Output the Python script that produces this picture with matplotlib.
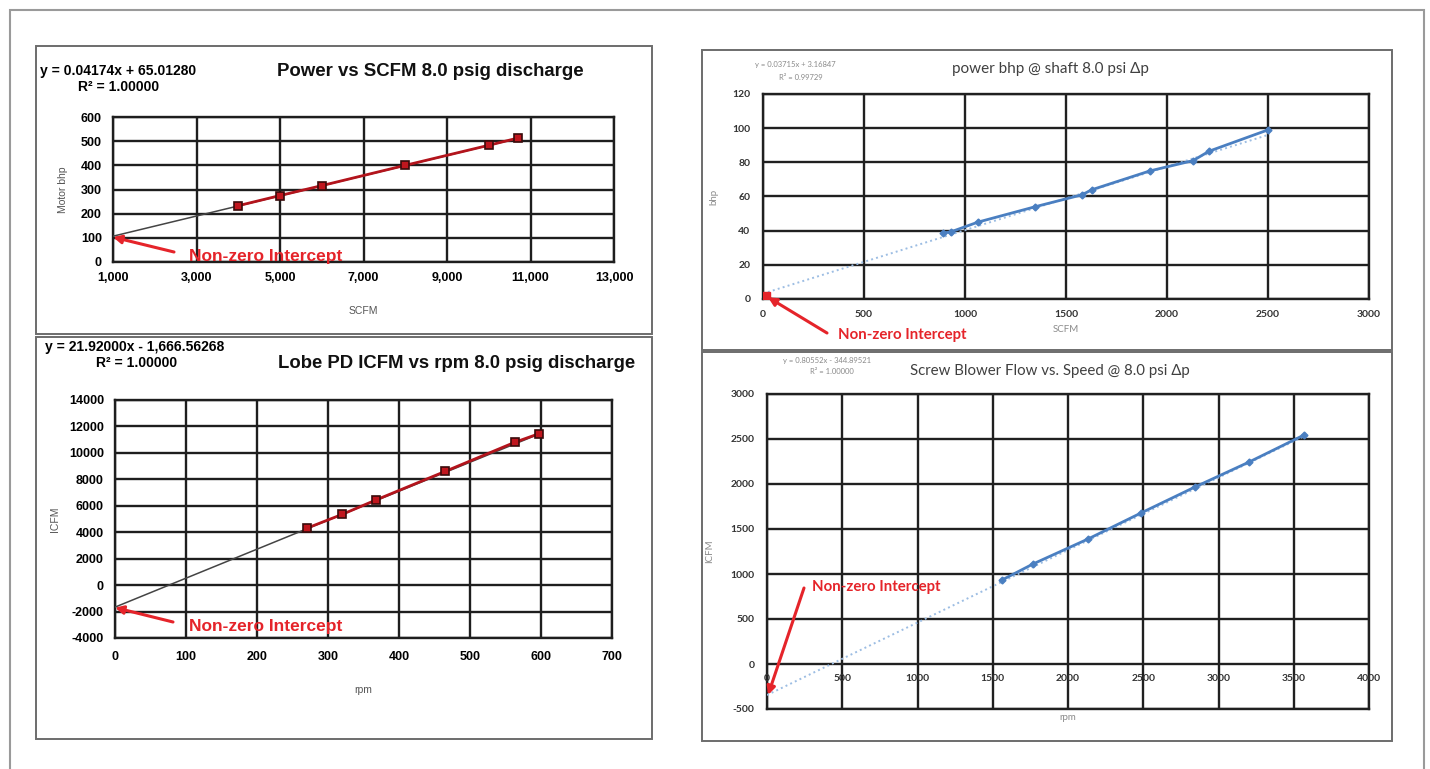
import matplotlib
matplotlib.use('Agg')
from matplotlib import pyplot as plt
from matplotlib.patches import Rectangle
from matplotlib.ticker import FuncFormatter

W, H = 1430, 769

# lobe PD blower: power vs SCFM
pd_scfm = [4000, 5000, 6000, 8000, 10000, 10700]
pd_bhp = [233, 275, 316, 400, 483, 513]
pd_bhp_fit = (0.04174, 65.01280)
pd_bhp_fit_range = (1000, 10700)

# lobe PD blower: ICFM vs rpm
pd_rpm = [270, 320, 368, 465, 563, 597]
pd_icfm = [4300, 5350, 6450, 8600, 10800, 11450]
pd_icfm_fit = (21.92000, -1666.56268)
pd_icfm_fit_range = (0, 597)

# screw blower: power vs SCFM
sc_scfm = [891, 930, 1064, 1347, 1579, 1629, 1916, 2129, 2208, 2500]
sc_bhp = [38.6, 39.3, 45, 54, 61, 64, 75, 81, 86.5, 99]
sc_bhp_fit = (0.03715, 3.16847)
sc_bhp_fit_range = (0, 2500)
sc_bhp_intercept = ([15], [2])

# screw blower: ICFM vs rpm
sc_rpm = [1561, 1767, 2133, 2485, 2844, 3203, 3568]
sc_icfm = [933, 1111, 1389, 1678, 1967, 2244, 2544]
sc_icfm_fit = (0.80552, -344.89521)
sc_icfm_fit_range = (0, 3568)

LEFT_FONT = ['Liberation Sans', 'DejaVu Sans']
RIGHT_FONT = ['Lato', 'DejaVu Sans']
RED = '#e5242a'

plt.rcParams['axes.unicode_minus'] = False


def px_axes(fig, l, t, r, b):
    return fig.add_axes([l / W, 1 - b / H, (r - l) / W, (b - t) / H])


def ftext(fig, x, y, s, **kw):
    fig.text(x / W, 1 - y / H, s, **kw)


def frame(fig, l, t, r, b, color='#6d6d6d', lw=1.4):
    fig.add_artist(Rectangle((l / W, 1 - b / H), (r - l) / W, (b - t) / H,
                             transform=fig.transFigure, fill=False,
                             edgecolor=color, linewidth=lw))


def style(ax, xlim, ylim, xticks, yticks, font, size, color, weight, gridc):
    ax.set_xlim(*xlim)
    ax.set_ylim(*ylim)
    ax.set_xticks(xticks)
    ax.set_yticks(yticks)
    ax.grid(True, color=gridc, linewidth=1.7)
    ax.set_axisbelow(True)
    ax.tick_params(length=0, labelsize=size, labelcolor=color)
    for lab in ax.get_xticklabels() + ax.get_yticklabels():
        lab.set_family(font)
        lab.set_fontweight(weight)
    for sp in ax.spines.values():
        sp.set_color(gridc)
        sp.set_linewidth(1.7)


def trend(ax, fit, rng, **kw):
    m, c = fit
    ax.plot(rng, [m * rng[0] + c, m * rng[1] + c], **kw)


def note(ax, xy, tail, textpos, font, size):
    ax.annotate('', xy=xy, xycoords='data',
                xytext=(tail[0], H - tail[1]), textcoords='figure pixels',
                arrowprops=dict(arrowstyle='-|>', color=RED, lw=2.2,
                                mutation_scale=12, shrinkA=0, shrinkB=0))
    ax.annotate('Non-zero Intercept', xy=xy, xycoords='data',
                xytext=(textpos[0], H - textpos[1]), textcoords='figure pixels',
                color=RED, fontsize=size, fontweight='bold', family=font,
                ha='left', va='center')


fig = plt.figure(figsize=(W / 100, H / 100), dpi=100)

# outer border and panel frames
frame(fig, 10, 10, 1424, 790, color='#9a9a9a', lw=1.5)
frame(fig, 36, 46, 652, 334)
frame(fig, 36, 337, 652, 739)
frame(fig, 702, 50, 1392, 350)
frame(fig, 702, 352, 1392, 741)

# ---- top left
ax1 = px_axes(fig, 113, 117, 614, 262)
style(ax1, (1000, 13000), (0, 600), range(1000, 13001, 2000), range(0, 601, 100),
      LEFT_FONT, 9, 'black', 'bold', '#1e1e1e')
ax1.xaxis.set_major_formatter(FuncFormatter(lambda v, p: '{:,.0f}'.format(v)))
ax1.tick_params(axis='x', pad=7)
ax1.tick_params(axis='y', pad=8)
trend(ax1, pd_bhp_fit, pd_bhp_fit_range, color='#444444', lw=1.1, zorder=3)
ax1.plot(pd_scfm, pd_bhp, color='#b3141c', lw=2.0, marker='s', ms=5.5,
         mfc='#c0161e', mec='#3a0a0a', mew=1.2, zorder=4)
ax1.set_xlabel('SCFM', family=LEFT_FONT, fontsize=7.5, color='#555555', labelpad=16)
ax1.set_ylabel('Motor bhp', family=LEFT_FONT, fontsize=7.5, color='#555555', labelpad=9)
note(ax1, (1000, 103), (174, 252), (189, 257), LEFT_FONT, 12.5)
ftext(fig, 40, 71, 'y = 0.04174x + 65.01280', family=LEFT_FONT, fontsize=10,
      fontweight='bold', va='center')
ftext(fig, 78, 87, 'R² = 1.00000', family=LEFT_FONT, fontsize=10,
      fontweight='bold', va='center')
ftext(fig, 430, 72, 'Power vs SCFM 8.0 psig discharge', family=LEFT_FONT,
      fontsize=13.4, fontweight='bold', ha='center', va='center', color='#111111')

# ---- bottom left
ax2 = px_axes(fig, 115, 400, 612, 638)
style(ax2, (0, 700), (-4000, 14000), range(0, 701, 100), range(-4000, 14001, 2000),
      LEFT_FONT, 9, 'black', 'bold', '#1e1e1e')
ax2.tick_params(axis='x', pad=9)
ax2.tick_params(axis='y', pad=8)
trend(ax2, pd_icfm_fit, pd_icfm_fit_range, color='#444444', lw=1.1, zorder=3)
ax2.plot(pd_rpm, pd_icfm, color='#b3141c', lw=2.0, marker='s', ms=5.5,
         mfc='#c0161e', mec='#3a0a0a', mew=1.2, zorder=4)
ax2.set_xlabel('rpm', family=LEFT_FONT, fontsize=7.5, color='#555555', labelpad=16)
ax2.set_ylabel('ICFM', family=LEFT_FONT, fontsize=7.5, color='#555555', labelpad=6)
note(ax2, (0, -1700), (173, 622), (189, 627), LEFT_FONT, 12.5)
ftext(fig, 45, 347, 'y = 21.92000x - 1,666.56268', family=LEFT_FONT, fontsize=10,
      fontweight='bold', va='center')
ftext(fig, 96, 363, 'R² = 1.00000', family=LEFT_FONT, fontsize=10,
      fontweight='bold', va='center')
ftext(fig, 457, 364, 'Lobe PD ICFM vs rpm 8.0 psig discharge', family=LEFT_FONT,
      fontsize=13.3, fontweight='bold', ha='center', va='center', color='#111111')

# ---- top right
ax3 = px_axes(fig, 763, 94, 1369, 299)
style(ax3, (0, 3000), (0, 120), range(0, 3001, 500), range(0, 121, 20),
      RIGHT_FONT, 7.5, '#333333', 'bold', '#202020')
ax3.tick_params(axis='x', pad=8)
ax3.tick_params(axis='y', pad=9)
trend(ax3, sc_bhp_fit, sc_bhp_fit_range, color='#9cbde3', lw=1.4, ls=':', zorder=3)
ax3.plot(sc_scfm, sc_bhp, color='#4a7fc1', lw=2.0, marker='D', ms=3.5,
         mfc='#4a7fc1', mec='#4a7fc1', zorder=4)
ax3.plot(*sc_bhp_intercept, ls='none', marker='s', ms=6, color=RED, zorder=5)
ax3.set_xlabel('SCFM', family=RIGHT_FONT, fontsize=7, color='#8a8a8a', labelpad=4)
ax3.set_ylabel('bhp', family=RIGHT_FONT, fontsize=7, color='#8a8a8a', labelpad=10)
note(ax3, (25, 1), (827, 333), (838, 335), RIGHT_FONT, 10.8)
ftext(fig, 755, 64, 'y = 0.03715x + 3.16847', family=RIGHT_FONT, fontsize=5.5,
      color='#8a8a8a', va='center')
ftext(fig, 779, 77, 'R² = 0.99729', family=RIGHT_FONT, fontsize=5.5,
      color='#8a8a8a', va='center')
ftext(fig, 1050, 69, 'power bhp @ shaft 8.0 psi Δp', family=RIGHT_FONT,
      fontsize=11, ha='center', va='center', color='#404040')

# ---- bottom right
ax4 = px_axes(fig, 767, 394, 1369, 709)
style(ax4, (0, 4000), (-500, 3000), range(0, 4001, 500), range(-500, 3001, 500),
      RIGHT_FONT, 7.5, '#333333', 'bold', '#202020')
ax4.tick_params(axis='y', pad=9)
ax4.tick_params(axis='x', labelbottom=False)
for t in range(0, 4001, 500):
    ax4.annotate(str(t), (t, 0), xytext=(0, -7), textcoords='offset points',
                 ha='center', va='top', fontsize=7.5, family=RIGHT_FONT,
                 fontweight='bold', color='#333333')
trend(ax4, sc_icfm_fit, sc_icfm_fit_range, color='#9cbde3', lw=1.4, ls=':', zorder=3)
ax4.plot(sc_rpm, sc_icfm, color='#4a7fc1', lw=2.0, marker='D', ms=3.5,
         mfc='#4a7fc1', mec='#4a7fc1', zorder=4)
ax4.set_xlabel('rpm', family=RIGHT_FONT, fontsize=7, color='#8a8a8a', labelpad=3)
ax4.set_ylabel('ICFM', family=RIGHT_FONT, fontsize=7, color='#8a8a8a', labelpad=12)
note(ax4, (7, -344), (804, 588), (812, 587), RIGHT_FONT, 10.8)
ftext(fig, 783, 360, 'y = 0.80552x - 344.89521', family=RIGHT_FONT, fontsize=5.5,
      color='#8a8a8a', va='center')
ftext(fig, 810, 372, 'R² = 1.00000', family=RIGHT_FONT, fontsize=5.5,
      color='#8a8a8a', va='center')
ftext(fig, 1050, 371, 'Screw Blower Flow vs. Speed @ 8.0 psi Δp', family=RIGHT_FONT,
      fontsize=10.8, ha='center', va='center', color='#404040')

fig.savefig('out.png', dpi=100)
